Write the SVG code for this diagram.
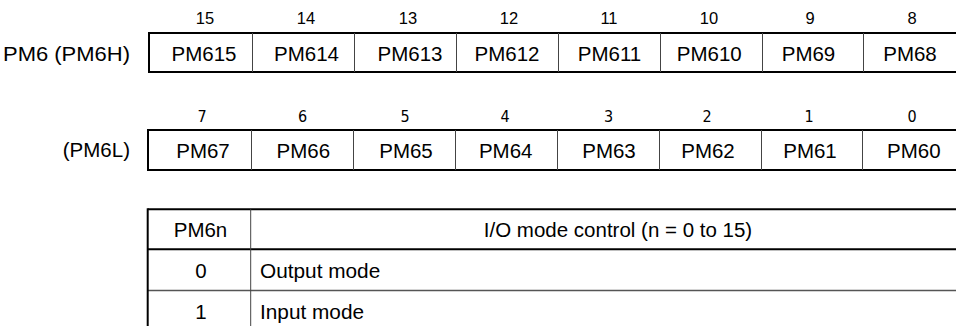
<svg xmlns="http://www.w3.org/2000/svg" width="956" height="326" viewBox="0 0 956 326">
<style>
text{font-family:"Liberation Sans",Arial,Helvetica,sans-serif;fill:#000}
.lbl{font-size:20.5px;text-anchor:middle}
.side{font-size:20.5px;text-anchor:end}
.bit{font-size:16.5px;text-anchor:middle}
.bitl{font-size:16px;text-anchor:middle;font-family:"DejaVu Sans Condensed","Liberation Sans",sans-serif}
.cell{font-size:20.8px}
.frame{fill:none;stroke:#000;stroke-width:2}
.div{stroke:#444;stroke-width:1}
</style>
<rect width="956" height="326" fill="#fff"/>
<g id="reg-high">
<text class="side" x="130" y="61" textLength="127" lengthAdjust="spacingAndGlyphs">PM6 (PM6H)</text>
<rect class="frame" x="149" y="33" width="830" height="39"/>
<line class="div" x1="252.5" y1="33" x2="252.5" y2="72"/>
<line class="div" x1="354.5" y1="33" x2="354.5" y2="72"/>
<line class="div" x1="456.5" y1="33" x2="456.5" y2="72"/>
<line class="div" x1="558.5" y1="33" x2="558.5" y2="72"/>
<line class="div" x1="660.5" y1="33" x2="660.5" y2="72"/>
<line class="div" x1="762.5" y1="33" x2="762.5" y2="72"/>
<line class="div" x1="863.5" y1="33" x2="863.5" y2="72"/>
<text class="bit" x="205" y="24">15</text>
<text class="bit" x="306" y="24">14</text>
<text class="bit" x="408" y="24">13</text>
<text class="bit" x="509" y="24">12</text>
<text class="bit" x="609" y="24">11</text>
<text class="bit" x="709" y="24">10</text>
<text class="bit" x="810" y="24">9</text>
<text class="bit" x="912" y="24">8</text>
<text class="lbl" x="204" y="60.5">PM615</text>
<text class="lbl" x="306.5" y="60.5">PM614</text>
<text class="lbl" x="410" y="60.5">PM613</text>
<text class="lbl" x="507" y="60.5">PM612</text>
<text class="lbl" x="609.5" y="60.5">PM611</text>
<text class="lbl" x="709.3" y="60.5">PM610</text>
<text class="lbl" x="808.5" y="60.5">PM69</text>
<text class="lbl" x="910" y="60.5">PM68</text>
</g>
<g id="reg-low">
<text class="side" x="130" y="157">(PM6L)</text>
<rect class="frame" x="148" y="130" width="830" height="40"/>
<line class="div" x1="251.5" y1="130" x2="251.5" y2="170"/>
<line class="div" x1="353.5" y1="130" x2="353.5" y2="170"/>
<line class="div" x1="455.5" y1="130" x2="455.5" y2="170"/>
<line class="div" x1="557.5" y1="130" x2="557.5" y2="170"/>
<line class="div" x1="659.5" y1="130" x2="659.5" y2="170"/>
<line class="div" x1="761.5" y1="130" x2="761.5" y2="170"/>
<line class="div" x1="862.5" y1="130" x2="862.5" y2="170"/>
<text class="bitl" x="202" y="121.5">7</text>
<text class="bitl" x="302.5" y="121.5">6</text>
<text class="bitl" x="405" y="121.5">5</text>
<text class="bitl" x="505" y="121.5">4</text>
<text class="bitl" x="608.5" y="121.5">3</text>
<text class="bitl" x="707" y="121.5">2</text>
<text class="bitl" x="809" y="121.5">1</text>
<text class="bitl" x="912" y="121.5">0</text>
<text class="lbl" x="203" y="158">PM67</text>
<text class="lbl" x="303.3" y="158">PM66</text>
<text class="lbl" x="406" y="158">PM65</text>
<text class="lbl" x="505.7" y="158">PM64</text>
<text class="lbl" x="609" y="158">PM63</text>
<text class="lbl" x="708" y="158">PM62</text>
<text class="lbl" x="810" y="158">PM61</text>
<text class="lbl" x="913.8" y="158">PM60</text>
</g>
<g id="table">
<line stroke="#000" stroke-width="2" x1="147.7" y1="209.3" x2="960" y2="209.3"/>
<line stroke="#000" stroke-width="2" x1="147.7" y1="249.3" x2="960" y2="249.3"/>
<line stroke="#555" stroke-width="1.3" x1="147.7" y1="290.5" x2="960" y2="290.5"/>
<line stroke="#000" stroke-width="2" x1="147.7" y1="208.3" x2="147.7" y2="330"/>
<line class="div" x1="250.7" y1="209.3" x2="250.7" y2="330"/>
<text class="lbl" x="200.5" y="237">PM6n</text>
<text class="lbl" x="618" y="237">I/O mode control (n = 0 to 15)</text>
<text class="lbl" x="201" y="278">0</text>
<text class="cell" x="260" y="278">Output mode</text>
<text class="lbl" x="201" y="318.5">1</text>
<text class="cell" x="260" y="318.5">Input mode</text>
</g>
<g id="connectors"/>
</svg>
